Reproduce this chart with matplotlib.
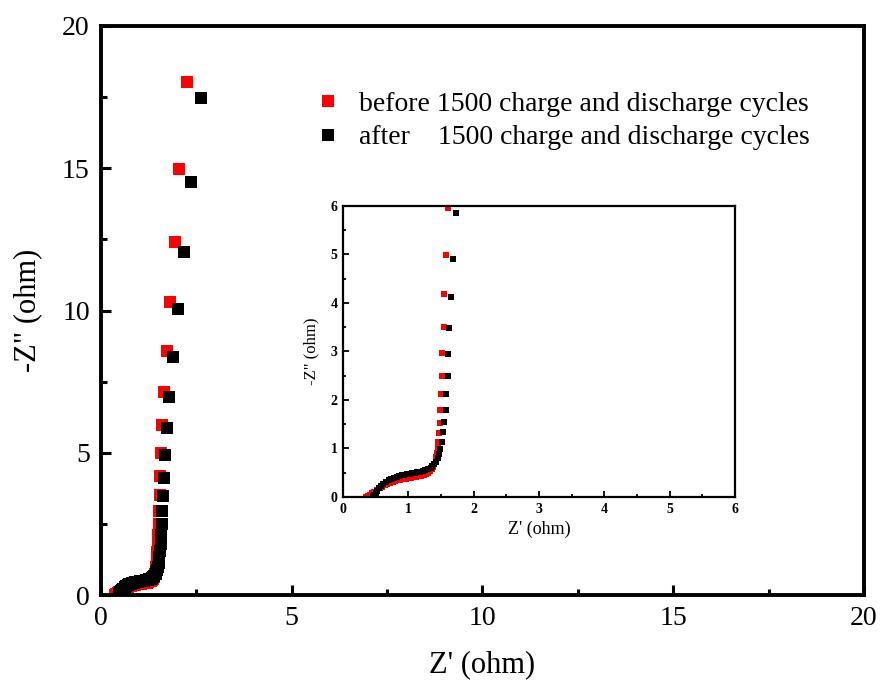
import matplotlib
matplotlib.use("Agg")
import matplotlib.pyplot as plt
from matplotlib.ticker import MultipleLocator

plt.rcParams['font.family'] = ['Liberation Serif', 'DejaVu Serif']
plt.rcParams['mathtext.fontset'] = 'stix'

# before 1500 cycles (red)
before_x = [2.25, 2.05, 1.93, 1.81, 1.72, 1.64, 1.60, 1.57, 1.55, 1.54, 1.52, 1.51, 1.50, 1.49, 1.48, 1.47,
            1.46, 1.45, 1.44, 1.43, 1.42, 1.40, 1.38, 1.36, 1.33, 1.30, 1.27, 1.24, 1.20, 1.16, 1.12, 1.08,
            1.04, 1.00, 0.96, 0.92, 0.88, 0.84, 0.80, 0.76, 0.72, 0.68, 0.64, 0.60, 0.56, 0.52, 0.48, 0.45,
            0.42, 0.40, 0.38, 0.36]
before_y = [18.03, 14.96, 12.40, 10.31, 8.59, 7.14, 5.96, 4.99, 4.18, 3.51, 2.96, 2.49, 2.12, 1.79, 1.52, 1.31,
            1.14, 1.00, 0.90, 0.82, 0.75, 0.68, 0.62, 0.57, 0.53, 0.50, 0.48, 0.46, 0.44, 0.43, 0.42, 0.41,
            0.40, 0.39, 0.38, 0.37, 0.36, 0.35, 0.33, 0.31, 0.29, 0.27, 0.24, 0.21, 0.18, 0.15, 0.11, 0.08,
            0.05, 0.03, 0.01, 0.00]

# after 1500 cycles (black)
after_x = [2.62, 2.35, 2.17, 2.01, 1.88, 1.78, 1.73, 1.69, 1.65, 1.63, 1.61, 1.60, 1.58, 1.57, 1.55, 1.53, 1.51,
           1.49, 1.47, 1.45, 1.43, 1.40, 1.37, 1.34, 1.30, 1.26, 1.22, 1.18, 1.14, 1.10, 1.06, 1.02, 0.98,
           0.94, 0.90, 0.86, 0.82, 0.78, 0.74, 0.70, 0.66, 0.62, 0.58, 0.55, 0.52, 0.50, 0.48, 0.46]
after_y = [17.46, 14.50, 12.05, 10.04, 8.38, 6.97, 5.86, 4.91, 4.12, 3.49, 2.94, 2.49, 2.12, 1.79, 1.55, 1.33, 1.14,
           0.99, 0.88, 0.80, 0.73, 0.67, 0.63, 0.60, 0.57, 0.55, 0.53, 0.52, 0.51, 0.50, 0.49, 0.48, 0.47,
           0.46, 0.45, 0.43, 0.42, 0.40, 0.37, 0.34, 0.31, 0.27, 0.22, 0.18, 0.13, 0.09, 0.05, 0.01]

labels = ["before 1500 charge and discharge cycles", "after    1500 charge and discharge cycles"]

fig = plt.figure(figsize=(8.81, 6.91), dpi=100)
ax = fig.add_axes([0.1146, 0.1389, 0.8661, 0.8235])

ax.plot(before_x, before_y, 's', color='#ff0000', ms=8.6, mew=0, label=labels[0], zorder=2)
ax.plot(after_x, after_y, 's', color='black', ms=8.6, mew=0, label=labels[1], zorder=3)

ax.set_xlim(0, 20)
ax.set_ylim(0, 20)
ax.xaxis.set_major_locator(MultipleLocator(5))
ax.xaxis.set_minor_locator(MultipleLocator(2.5))
ax.yaxis.set_major_locator(MultipleLocator(5))
ax.yaxis.set_minor_locator(MultipleLocator(2.5))
ax.tick_params(which='both', direction='in', top=False, right=False, width=2.2, labelsize=20, pad=8)
ax.tick_params(which='major', length=7)
ax.tick_params(which='minor', length=4)
for s in ax.spines.values():
    s.set_linewidth(2.8)
ax.set_xlabel("Z' (ohm)", fontsize=22, labelpad=14)
ax.set_ylabel('-Z" (ohm)', fontsize=22, labelpad=14)

leg = ax.legend(loc='upper left', bbox_to_anchor=(0.344, 0.884), bbox_transform=fig.transFigure,
                frameon=False, fontsize=20, handletextpad=0.6, labelspacing=0.3, markerscale=1.0,
                handlelength=1.0, borderaxespad=0)

# inset
ins = fig.add_axes([0.3893, 0.2808, 0.4450, 0.4211])
ins.plot(before_x, before_y, 's', color='#ff0000', ms=4.0, mew=0, zorder=2)
ins.plot(after_x, after_y, 's', color='black', ms=4.0, mew=0, zorder=3)
ins.set_xlim(0, 6)
ins.set_ylim(0, 6)
ins.xaxis.set_major_locator(MultipleLocator(1))
ins.xaxis.set_minor_locator(MultipleLocator(0.5))
ins.yaxis.set_major_locator(MultipleLocator(1))
ins.yaxis.set_minor_locator(MultipleLocator(0.5))
ins.tick_params(which='both', direction='in', top=False, right=False, width=1.3, labelsize=10, pad=4)
ins.tick_params(which='major', length=4)
ins.tick_params(which='minor', length=2.5)
for lab in ins.get_xticklabels() + ins.get_yticklabels():
    lab.set_fontweight('bold')
for s in ins.spines.values():
    s.set_linewidth(1.6)
ins.set_xlabel("Z' (ohm)", fontsize=13, labelpad=4)
ins.set_ylabel('-Z" (ohm)', fontsize=12, labelpad=8)

fig.savefig('out.png', dpi=100)
